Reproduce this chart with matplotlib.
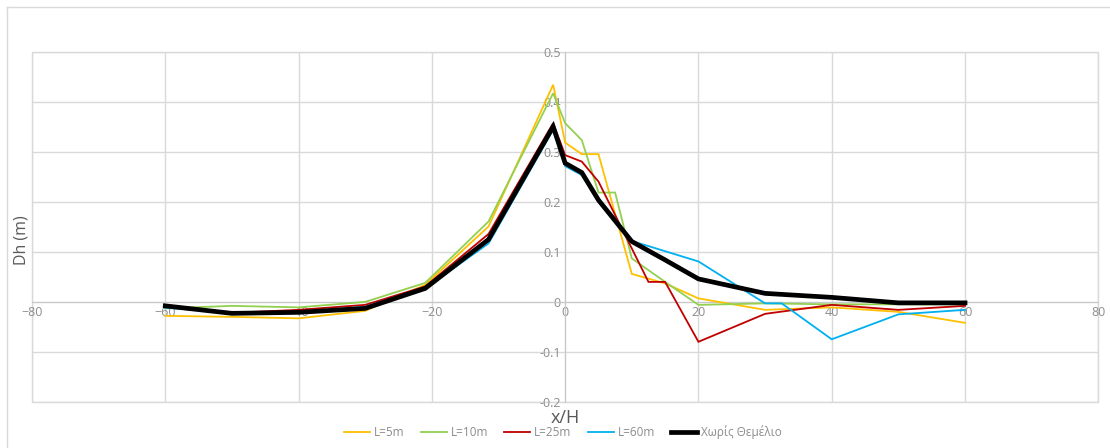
import matplotlib
matplotlib.use("Agg")
import matplotlib.pyplot as plt
from matplotlib.lines import Line2D
from matplotlib.patches import Rectangle

plt.rcParams['font.family'] = ['Open Sans', 'DejaVu Sans']

# Horizontal displacement Dh along x/H for different foundation lengths
x_l5 = [-60, -50, -40, -30, -21, -11.5, -1.8, 0, 2.5, 5, 10, 15, 20, 30, 40, 50, 60]
y_l5 = [-0.028, -0.030, -0.033, -0.018, 0.034, 0.151, 0.435, 0.319, 0.296, 0.296,
        0.056, 0.037, 0.007, -0.016, -0.011, -0.020, -0.042]

x_l10 = [-60, -50, -40, -30, -21, -11.5, -1.8, 0, 2.5, 5, 7.5, 10, 15, 20, 30, 40, 50, 60]
y_l10 = [-0.013, -0.008, -0.011, 0.000, 0.038, 0.161, 0.418, 0.358, 0.324, 0.219, 0.219,
         0.087, 0.040, -0.006, -0.003, -0.005, -0.005, -0.005]

x_l25 = [-60, -50, -40, -30, -21, -11.5, -1.8, 0, 2.5, 5, 12.5, 15, 20, 30, 40, 50, 60]
y_l25 = [-0.010, -0.022, -0.016, -0.006, 0.031, 0.136, 0.358, 0.294, 0.281, 0.241,
         0.040, 0.040, -0.080, -0.024, -0.006, -0.016, -0.008]

x_l60 = [-60, -50, -40, -30, -21, -11.5, -1.8, 0, 2.5, 5, 10, 20, 30, 32.5, 40, 50, 60]
y_l60 = [-0.012, -0.021, -0.020, -0.010, 0.027, 0.117, 0.345, 0.272, 0.254, 0.200,
         0.122, 0.081, -0.003, -0.003, -0.075, -0.025, -0.016]

x_none = [-60, -50, -40, -30, -21, -11.5, -1.8, 0, 2.5, 5, 10, 15, 20, 30, 40, 50, 60]
y_none = [-0.008, -0.023, -0.021, -0.013, 0.027, 0.125, 0.351, 0.278, 0.259, 0.204,
          0.121, 0.084, 0.046, 0.017, 0.009, -0.002, -0.002]

series = [
    ("L=5m", x_l5, y_l5, "#FFC000", 1.3),
    ("L=10m", x_l10, y_l10, "#92D050", 1.3),
    ("L=25m", x_l25, y_l25, "#C00000", 1.3),
    ("L=60m", x_l60, y_l60, "#00B0F0", 1.3),
    ("Χωρίς Θεμέλιο", x_none, y_none, "#000000", 3.4),
]

x_ticks = [-80, -60, -40, -20, 0, 20, 40, 60, 80]
y_ticks = [-0.2, -0.1, 0, 0.1, 0.2, 0.3, 0.4, 0.5]
y_ticklabels = ["-0.2", "-0.1", "0", "0.1", "0.2", "0.3", "0.4", "0.5"]

grid_c = "#D9D9D9"
text_c = "#8C8C8C"

fig = plt.figure(figsize=(11.10, 4.48), dpi=100)
ax = fig.add_axes([32 / 1110, 1 - 401.7 / 448, (1098.3 - 32) / 1110, (401.7 - 52.3) / 448])

for label, xs, ys, c, lw in series:
    ax.plot(xs, ys, color=c, lw=lw, label=label, solid_joinstyle='miter', zorder=3)

ax.set_xlim(-80, 80)
ax.set_ylim(-0.2, 0.5)
ax.set_xticks(x_ticks)
ax.set_yticks(y_ticks)
ax.set_yticklabels(y_ticklabels)
ax.grid(True, color=grid_c, lw=1.0, zorder=0)

# axes cross at the origin
ax.spines['left'].set_position(('data', 0))
ax.spines['bottom'].set_position(('data', 0))
ax.spines['left'].set_color("#C8C8C8")
ax.spines['bottom'].set_color("#C8C8C8")
ax.spines['top'].set_visible(False)
ax.spines['right'].set_visible(False)
ax.add_patch(Rectangle((0, 0), 1, 1, transform=ax.transAxes, fill=False,
                       edgecolor=grid_c, lw=1.0, clip_on=False, zorder=1))
ax.tick_params(length=0, labelsize=9, labelcolor=text_c, pad=3)
for t in ax.get_yticklabels():
    t.set_zorder(5)

fig.text(22 / 1110, 1 - 240 / 448, "Dh (m)", rotation=90, ha='center', va='center',
         fontsize=11.5, color="#595959")
fig.text(565 / 1110, 1 - 418 / 448, "x/H", ha='center', va='center',
         fontsize=13, color="#595959")

leg = fig.legend(loc='center', bbox_to_anchor=(563 / 1110, 1 - 432 / 448), ncol=5,
                 frameon=False, fontsize=8.5, handlelength=2.2, handletextpad=0.35,
                 columnspacing=1.35, borderaxespad=0)
for t in leg.get_texts():
    t.set_color(text_c)

# outer chart border (left and top edges)
fig.add_artist(Line2D([7 / 1110, 7 / 1110], [0, 1 - 7 / 448], transform=fig.transFigure,
                      color=grid_c, lw=1.0))
fig.add_artist(Line2D([7 / 1110, 1], [1 - 7 / 448, 1 - 7 / 448], transform=fig.transFigure,
                      color=grid_c, lw=1.0))

fig.savefig("out.png", dpi=100, facecolor="white")
